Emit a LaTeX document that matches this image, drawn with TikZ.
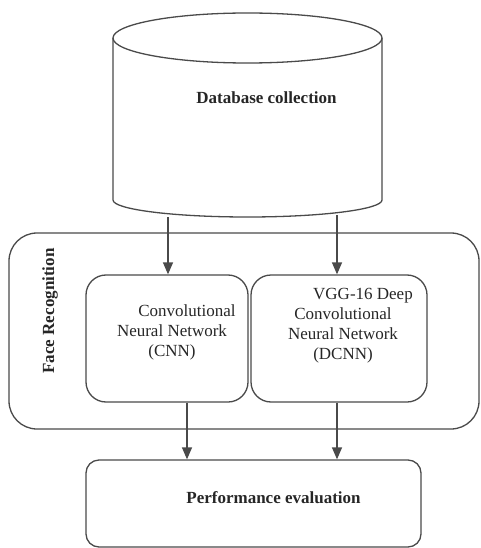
\documentclass[tikz,border=0pt]{standalone}
\usepackage{fontspec}
\setmainfont{Liberation Serif}
\usetikzlibrary{arrows.meta,calc}
\definecolor{linec}{HTML}{4A4A4A}
\tikzset{
  box/.style={draw=linec, line width=1.3pt, rounded corners=#1, minimum width=0pt, minimum height=0pt, inner sep=0pt},
  box/.default=20pt,
  txt/.style={font=\fontsize{17}{20}\selectfont, align=center, inner sep=0pt, text=black!85},
  btxt/.style={font=\fontsize{17}{20}\selectfont\bfseries, inner sep=0pt, text=black!85},
  arr/.style={draw=linec, line width=1.3pt, -{Triangle[length=12pt,width=10pt]}},
  cyl/.style={draw=linec, line width=1.3pt}
}
\begin{document}
\begin{tikzpicture}[x=1pt,y=-1pt]
\useasboundingbox (0,0) rectangle (480,548);
% cylinder
\draw[cyl] (247.5,38) ellipse [x radius=134.5, y radius=25];
\draw[cyl] (113,38) -- (113,200) arc [start angle=180, end angle=0, x radius=134.5, y radius=17] -- (382,38);
\node[btxt] (db) at (266.5,98) {Database collection};
\coordinate (c1) at (168,217);
\coordinate (c2) at (337,215);
% face recognition container
\node[box=28pt, minimum width=470pt, minimum height=196pt] (fr) at (244,331) {};
\node[btxt, rotate=90] (frl) at (50,311) {Face Recognition};
% inner boxes
\node[box=20pt, minimum width=162pt, minimum height=127pt] (cnn) at (167,338.5) {};
\node[box=20pt, minimum width=176pt, minimum height=127pt] (dcnn) at (339,338.5) {};
\node[txt] (cnnt) at (172,332) {\hspace*{30pt}Convolutional\\Neural Network\\(CNN)};
\node[txt] (dcnnt) at (343,325.5) {\hspace*{40pt}VGG-16 Deep\\Convolutional\\Neural Network\\(DCNN)};
% performance
\node[box=13pt, minimum width=335pt, minimum height=87pt] (perf) at (253.5,503.5) {};
\node[btxt] (perft) at (273.5,498) {Performance evaluation};
% arrows
\draw[arr] (c1) -- (c1 |- cnn.north);
\draw[arr] (c2) -- (c2 |- dcnn.north);
\draw[arr] ([xshift=20pt]cnn.south) -- ([xshift=20pt]cnn.south |- perf.north);
\draw[arr] ([xshift=-2pt]dcnn.south) -- ([xshift=-2pt]dcnn.south |- perf.north);
\end{tikzpicture}
\end{document}
